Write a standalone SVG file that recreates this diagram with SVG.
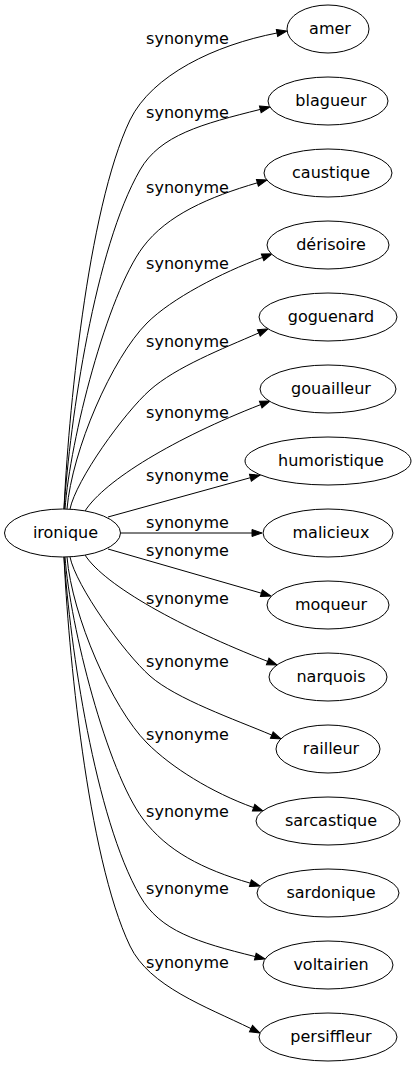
<svg xmlns="http://www.w3.org/2000/svg" width="416" height="1067" viewBox="0 0 416 1067">
<style>
.n ellipse{fill:#fff;stroke:#000;stroke-width:1}
.n text{font-family:"DejaVu Sans",sans-serif;font-size:16px;text-anchor:middle;fill:#000}
.e path{fill:none;stroke:#000;stroke-width:1;marker-end:url(#ah)}
.e text{font-family:"DejaVu Sans",sans-serif;font-size:16px;text-anchor:middle;fill:#000}
</style>
<defs>
<marker id="ah" markerWidth="10" markerHeight="7" refX="0" refY="3.5" orient="auto" markerUnits="userSpaceOnUse" overflow="visible">
<path d="M0,0 L10,3.5 L0,7 z" fill="#000" stroke="#000" stroke-width="1"/>
</marker>
</defs>
<rect width="416" height="1067" fill="#fff"/>
<g id="edges" class="e">
<path d="M64,509 C68,420 87,210 130,120 C152,75 215,45 277,33"/>
<text x="187.5" y="44">synonyme</text>
<path d="M64,509 C70,420 95,248 140,170 C160,135 202,124 260.3,109.4"/>
<text x="187.5" y="118">synonyme</text>
<path d="M65,509 C70,440 107,295 143,247 C167,215 209,197 257.4,182.8"/>
<text x="187.5" y="193">synonyme</text>
<path d="M67,509 C72,450 112,358 147,323 C171.5,298.5 221,273 262.6,257.4"/>
<text x="187.5" y="269">synonyme</text>
<path d="M70,509 C76,480 124,413 150,390 C176,367 222,349 258.8,332.9"/>
<text x="187.5" y="346.5">synonyme</text>
<path d="M85,511 C105,480 175,438 260.7,404.6"/>
<text x="187.5" y="418">synonyme</text>
<path d="M108,517 L250.4,477.7"/>
<text x="187.5" y="480.5">synonyme</text>
<path d="M121,533 L252,533"/>
<text x="187.5" y="528.3">synonyme</text>
<path d="M108,549 L261.4,593.2"/>
<text x="187.5" y="556">synonyme</text>
<path d="M85,555 C105,586 182,628 267.7,661.4"/>
<text x="187.5" y="604">synonyme</text>
<path d="M70,557 C76,586 124,653 150,676 C176,699 235,719.5 271.8,735.1"/>
<text x="187.5" y="666.7">synonyme</text>
<path d="M67,557 C72,616 112,708 147,743 C171.5,767.5 211.3,792.3 253.6,807.6"/>
<text x="187.5" y="740">synonyme</text>
<path d="M65,557 C70,626 107,771 143,819 C167,851 202.4,869.2 250.4,883.2"/>
<text x="187.5" y="817">synonyme</text>
<path d="M64,557 C70,646 95,818 140,896 C160,931 197.1,942.2 255.3,956.6"/>
<text x="187.5" y="893.7">synonyme</text>
<path d="M64,557 C68,646 87,856 130,946 C149.4,986.5 206,1006.6 251,1028.6"/>
<text x="187.5" y="968">synonyme</text>
</g>
<g id="ironique" class="n"><ellipse cx="62.5" cy="533" rx="58" ry="24"/><text x="65.5" y="538">ironique</text></g>
<g id="amer" class="n"><ellipse cx="328" cy="29" rx="41" ry="24"/><text x="330" y="34">amer</text></g>
<g id="blagueur" class="n"><ellipse cx="328" cy="101" rx="60" ry="24"/><text x="331" y="106">blagueur</text></g>
<g id="caustique" class="n"><ellipse cx="328" cy="173" rx="64" ry="24"/><text x="331" y="178">caustique</text></g>
<g id="derisoire" class="n"><ellipse cx="328" cy="245" rx="61" ry="24"/><text x="331" y="250">dérisoire</text></g>
<g id="goguenard" class="n"><ellipse cx="328" cy="317" rx="69" ry="24"/><text x="331" y="322">goguenard</text></g>
<g id="gouailleur" class="n"><ellipse cx="328" cy="389" rx="68" ry="24"/><text x="331" y="394">gouailleur</text></g>
<g id="humoristique" class="n"><ellipse cx="328" cy="461" rx="83" ry="24"/><text x="331" y="466">humoristique</text></g>
<g id="malicieux" class="n"><ellipse cx="328" cy="533" rx="65" ry="24"/><text x="331" y="538">malicieux</text></g>
<g id="moqueur" class="n"><ellipse cx="328" cy="605" rx="61" ry="24"/><text x="331" y="610">moqueur</text></g>
<g id="narquois" class="n"><ellipse cx="328" cy="677" rx="59" ry="24"/><text x="331" y="682">narquois</text></g>
<g id="railleur" class="n"><ellipse cx="328" cy="749" rx="52" ry="24"/><text x="331" y="754">railleur</text></g>
<g id="sarcastique" class="n"><ellipse cx="328" cy="821" rx="72" ry="24"/><text x="331" y="826">sarcastique</text></g>
<g id="sardonique" class="n"><ellipse cx="328" cy="893" rx="71" ry="24"/><text x="331" y="898">sardonique</text></g>
<g id="voltairien" class="n"><ellipse cx="328" cy="965" rx="65" ry="24"/><text x="331" y="970">voltairien</text></g>
<g id="persiffleur" class="n"><ellipse cx="328" cy="1037" rx="69" ry="24"/><text x="331" y="1042">persiffleur</text></g>
</svg>
